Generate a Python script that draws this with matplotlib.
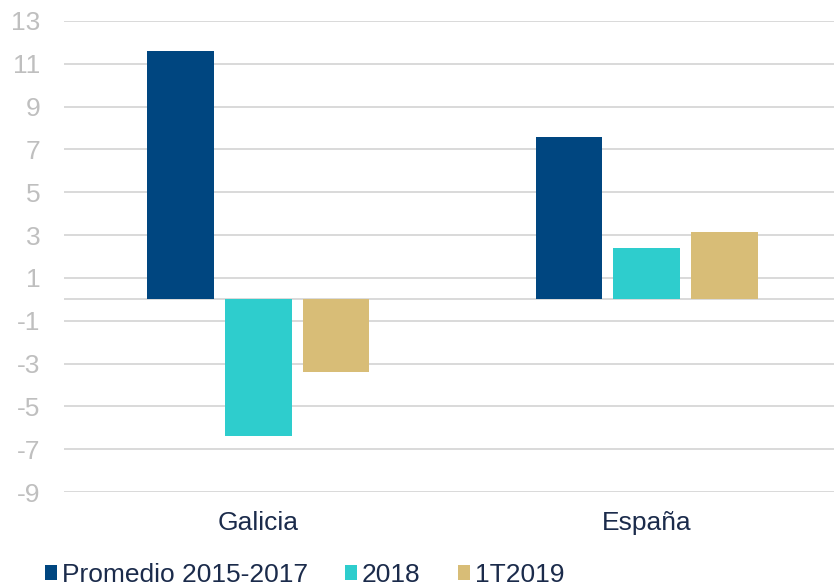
import numpy as np
import matplotlib
matplotlib.use("Agg")
import matplotlib.pyplot as plt
from matplotlib.patches import Patch

plt.rcParams['font.family'] = ['Liberation Sans', 'DejaVu Sans']

categories = ["Galicia", "España"]
series_names = ["Promedio 2015-2017", "2018", "1T2019"]
promedio = [11.6, 7.6]
v2018 = [-6.4, 2.4]
v1t2019 = [-3.4, 3.15]
series_values = [promedio, v2018, v1t2019]
yticks = list(range(-9, 14, 2))

COLORS = ["#004680", "#2ECDCD", "#D8BD77"]
TEXT_DARK = "#1B2B4B"
GRID = "#D9D9D9"


def main():
    fig = plt.figure(figsize=(8.34, 5.88), dpi=100)
    ax = fig.add_axes([64 / 834, 1 - 492 / 588, 1 - 64 / 834, (492 - 21) / 588])

    x = np.arange(len(categories))
    width = 0.172
    step = 0.2
    for i, (vals, color) in enumerate(zip(series_values, COLORS)):
        ax.bar(x + (i - 1) * step, vals, width=width, color=color, zorder=3)

    ax.set_xlim(-0.5, 1.482)
    ax.set_ylim(-9, 13)
    ax.set_yticks(yticks)
    ax.set_yticklabels([str(t) for t in yticks])
    for t in yticks:
        ax.axhline(t, color=GRID, linewidth=1.4, zorder=1)
    ax.axhline(0, color=GRID, linewidth=1.4, zorder=1)

    ax.set_xticks(x)
    ax.set_xticklabels(categories)
    ax.tick_params(axis="x", length=0, pad=14, labelsize=19, labelcolor=TEXT_DARK)
    ax.tick_params(axis="y", length=0, pad=17, labelsize=19, labelcolor="#BFBFBF")
    for spine in ax.spines.values():
        spine.set_visible(False)

    handles = [Patch(facecolor=c, label=n) for c, n in zip(COLORS, series_names)]
    fig.legend(handles=handles, loc="lower left", bbox_to_anchor=(0.041, -0.016),
               ncol=3, frameon=False, fontsize=19, labelcolor=TEXT_DARK,
               handlelength=0.45, handleheight=0.45, handletextpad=0.2,
               columnspacing=1.4, borderaxespad=0)

    fig.savefig("out.png", dpi=100)


if __name__ == "__main__":
    main()
